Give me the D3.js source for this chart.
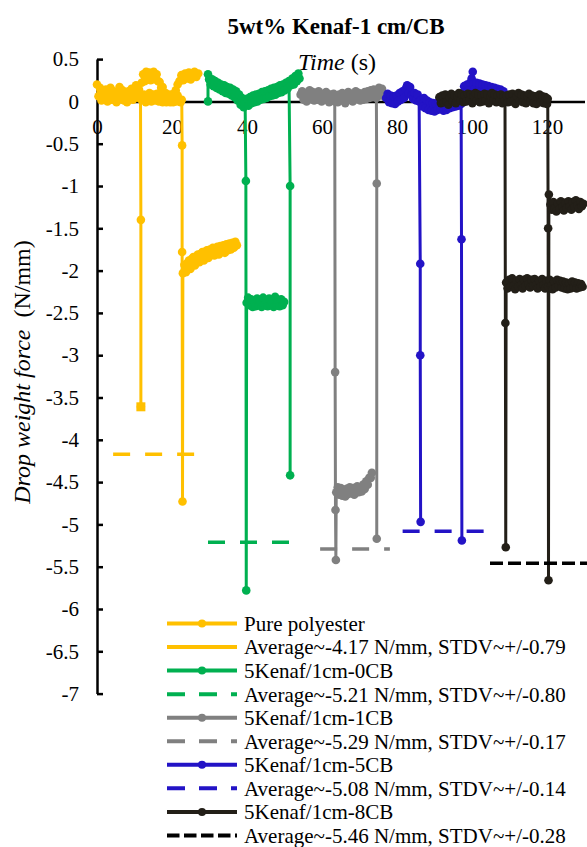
<!DOCTYPE html>
<html>
<head>
<meta charset="utf-8">
<script src="https://cdn.jsdelivr.net/npm/d3@7"></script>
<style>
  body { margin: 0; background: #fff; }
</style>
</head>
<body>
<div id="chart"></div>
<script>
// ---- data: [time (s), force (N/mm)] ----
const pureSegs = [
  [[0.0,0.2],[0.4,0.06],[0.8,0.16],[1.2,0.01],[1.6,0.12],[2.0,0.03],[2.4,0.14],[2.8,0.0],[3.2,0.1],[3.6,0.16],
   [4.0,0.02],[4.4,0.12],[4.8,0.04],[5.2,-0.01],[5.6,0.11],[6.0,0.17],[6.4,0.03],[6.8,0.13],[7.2,0.01],[7.6,0.1],
   [8.0,-0.01],[8.4,0.12],[8.8,0.03],[9.2,0.15],[9.6,0.02],[10.0,0.13],[10.4,0.19],[10.8,0.05],[11.2,0.14],[11.6,0.03],
   [11.7,-1.4],[11.7,-3.61]],
  [[11.9,0.22],[12.3,0.32],[12.7,0.24],[13.1,0.35],[13.5,0.26],[13.9,0.34],[14.3,0.25],[14.7,0.33],[15.1,0.35],[15.5,0.26],
   [15.9,0.32],[16.3,0.24],[16.7,0.23],[17.1,0.16],[17.5,0.17],[17.9,0.09],[18.3,0.1],[18.7,0.03],[19.1,0.04],[19.5,-0.01],
   [19.9,0.05],[20.3,-0.01],[20.7,0.06],[21.1,0.0],[21.5,0.07],[21.9,0.01],[22.3,-0.01],[22.6,0.02],
   [22.7,-0.52],[22.7,-1.78],[22.8,-4.73],[22.9,-2.03],[23.3,-1.93],[23.7,-2.02],[24.1,-1.91],[24.5,-1.88],[24.9,-1.98],
   [25.3,-1.86],[25.7,-1.84],[26.1,-1.94],[26.5,-1.83],[26.9,-1.81],[27.3,-1.9],[27.7,-1.8],[28.1,-1.78],[28.5,-1.88],
   [28.9,-1.78],[29.3,-1.76],[29.7,-1.85],[30.1,-1.75],[30.5,-1.81],[30.9,-1.73],[31.3,-1.82],[31.7,-1.74],[32.1,-1.72],
   [32.5,-1.81],[32.9,-1.71],[33.3,-1.78],[33.7,-1.7],[34.1,-1.79],[34.5,-1.69],[34.9,-1.76],[35.3,-1.68],[35.7,-1.75],
   [36.1,-1.67],[36.5,-1.73],[36.9,-1.66],[37.3,-1.7]],
  [[12.0,0.02],[12.5,0.08],[13.0,-0.01],[13.5,0.07],[14.0,0.1],[14.5,0.0],[15.0,0.08],[15.5,0.01],[16.0,0.09],[16.5,0.0],
   [17.0,0.07],[17.5,-0.01],[18.0,0.06],[18.5,-0.01],[19.0,0.05],[19.5,0.08],[20.0,0.01],[20.5,0.09],[21.0,0.13],[21.5,0.2],
   [22.0,0.24],[22.5,0.31],[23.0,0.25],[23.5,0.33],[24.0,0.27],[24.5,0.34],[25.0,0.26],[25.5,0.31],[26.0,0.35],[26.5,0.29],[27.0,0.33]]
];
const pureSquare = [[11.7,-3.61]];

const kenaf0Segs = [
  [[29.6,0.0],[29.6,0.32],[29.9,0.26],[30.3,0.2],[30.7,0.26],[31.1,0.18],[31.5,0.24],[31.9,0.16],[32.3,0.22],[32.7,0.14],
   [33.1,0.2],[33.5,0.12],[33.9,0.19],[34.3,0.1],[34.7,0.17],[35.1,0.09],[35.5,0.16],[35.9,0.07],[36.3,0.14],[36.7,0.05],
   [37.1,0.12],[37.5,0.01],[37.9,0.08],[38.3,-0.04],[38.7,0.04],[39.1,-0.07],[39.5,0.0],
   [39.7,-0.94],[39.8,-5.78],[39.9,-2.38],[40.3,-2.32],[40.7,-2.41],[41.1,-2.34],[41.5,-2.43],[41.9,-2.35],[42.3,-2.42],
   [42.7,-2.33],[43.1,-2.41],[43.5,-2.36],[43.9,-2.43],[44.3,-2.32],[44.7,-2.4],[45.1,-2.35],[45.5,-2.42],[45.9,-2.33],
   [46.3,-2.41],[46.7,-2.37],[47.1,-2.43],[47.5,-2.31],[47.9,-2.41],[48.3,-2.35],[48.7,-2.42],[49.1,-2.34],[49.5,-2.41],[49.9,-2.37]],
  [[40.0,0.03],[40.4,-0.05],[40.8,0.05],[41.2,-0.02],[41.6,0.07],[42.0,-0.01],[42.4,0.08],[42.8,0.0],[43.2,0.09],[43.6,0.02],
   [44.0,0.11],[44.4,0.03],[44.8,0.12],[45.2,0.04],[45.6,0.13],[46.0,0.06],[46.4,0.15],[46.8,0.07],[47.2,0.16],[47.6,0.08],
   [48.0,0.17],[48.4,0.1],[48.8,0.19],[49.2,0.11],[49.6,0.2],[50.0,0.13],[50.4,0.22],[50.8,0.15],[51.2,0.24],
   [51.5,-1.0],[51.5,-4.42]],
  [[51.7,0.19],[52.1,0.27],[52.5,0.2],[52.9,0.3],[53.3,0.24],[53.7,0.33],[54.0,0.27]]
];

const kenaf1Segs = [
  [[54.3,0.08],[54.7,0.12],[55.1,0.02],[55.5,0.1],[55.9,0.0],[56.3,0.09],[56.7,0.13],[57.1,0.03],[57.5,0.11],[57.9,0.01],
   [58.3,0.1],[58.7,0.02],[59.1,0.12],[59.5,0.04],[59.9,0.0],[60.3,0.09],[60.7,0.02],[61.1,0.11],[61.5,0.03],[61.9,-0.01],
   [62.3,0.08],[62.7,0.01],[63.1,0.09],[63.4,0.0],
   [63.5,-3.2],[63.6,-4.83],[63.7,-5.42],[63.8,-4.62],[64.2,-4.56],[64.6,-4.65],[65.0,-4.57],[65.4,-4.66],[65.8,-4.59],
   [66.2,-4.67],[66.6,-4.58],[67.0,-4.64],[67.4,-4.56],[67.8,-4.63],[68.2,-4.57],[68.6,-4.65],[69.0,-4.59],[69.4,-4.55],
   [69.8,-4.62],[70.2,-4.56],[70.6,-4.61],[71.0,-4.53],[71.4,-4.58],[71.8,-4.49],[72.2,-4.53],[72.6,-4.45],[73.0,-4.45],[73.3,-4.39]],
  [[63.8,0.06],[64.2,-0.01],[64.6,0.08],[65.0,0.01],[65.4,0.1],[65.8,0.02],[66.2,-0.02],[66.6,0.07],[67.0,0.11],[67.4,0.02],
   [67.8,0.09],[68.2,0.0],[68.6,0.08],[69.0,0.12],[69.4,0.03],[69.8,0.1],[70.2,0.01],[70.6,0.09],[71.0,0.02],[71.4,0.11],
   [71.8,0.03],[72.2,0.12],[72.6,0.04],[73.0,0.13],[73.4,0.05],[73.8,0.14],[74.2,0.06],[74.5,0.04],
   [74.6,-0.97],[74.6,-5.17]],
  [[74.8,0.12],[75.2,0.16],[75.6,0.07],[76.0,0.15],[76.4,0.08],[76.8,0.05]]
];

const kenaf5Segs = [
  [[77.1,0.04],[77.5,0.09],[77.9,-0.01],[78.3,0.07],[78.7,-0.02],[79.1,0.06],[79.5,-0.03],[79.9,0.07],[80.3,0.0],[80.7,0.1],
   [81.1,0.02],[81.5,0.12],[81.9,0.04],[82.3,0.15],[82.7,0.19],[83.1,0.1],[83.5,0.17],[83.9,0.07],[84.3,0.03],[84.7,0.1],
   [85.1,0.01],[85.5,0.08],[85.9,0.0],[86.2,-1.92],[86.2,-3.0],[86.3,-4.97]],
  [[86.4,0.02],[86.8,-0.06],[87.2,0.04],[87.6,-0.08],[88.0,0.01],[88.4,-0.1],[88.8,-0.01],[89.2,-0.11],[89.6,-0.02],[90.0,-0.12],
   [90.4,-0.03],[90.8,-0.1],[91.2,0.0],[91.6,-0.09],[92.0,-0.01],[92.4,-0.11],[92.8,-0.02],[93.2,-0.1],[93.6,0.0],[94.0,-0.08],
   [94.4,0.01],[94.8,-0.07],[95.2,0.02],[95.6,-0.06],[96.0,0.03],[96.4,-0.05],[96.8,0.02],[97.1,-0.03],
   [97.2,-1.63],[97.3,-5.19]],
  [[97.5,0.1],[97.9,0.18],[98.3,0.11],[98.7,0.2],[99.1,0.13],[99.5,0.22],[99.9,0.27],[100.2,0.35],[100.4,0.21],[100.8,0.15],
   [101.2,0.22],[101.6,0.13],[102.0,0.21],[102.4,0.12],[102.8,0.2],[103.2,0.11],[103.6,0.19],[104.0,0.1],[104.4,0.18],[104.8,0.09],
   [105.2,0.17],[105.6,0.08],[106.0,0.16],[106.4,0.07],[106.8,0.15],[107.2,0.06],[107.6,0.14],[108.0,0.05],[108.4,0.12],[108.8,0.04]]
];

const kenaf8Segs = [
  [[91.3,0.05],[91.7,-0.02],[92.1,0.07],[92.5,-0.01],[92.9,0.08],[93.3,0.0],[93.7,-0.04],[94.1,0.05],[94.5,0.09],[94.9,0.0],
   [95.3,0.07],[95.7,-0.02],[96.1,0.06],[96.5,0.1],[96.9,0.01],[97.3,0.08],[97.7,-0.01],[98.1,0.07],[98.5,0.0],[98.9,0.09],
   [99.3,0.01],[99.7,0.08],[100.1,-0.02],[100.5,0.06],[100.9,0.1],[101.3,0.01],[101.7,0.08],[102.1,-0.01],[102.5,0.07],[102.9,0.0],
   [103.3,0.09],[103.7,0.01],[104.1,0.08],[104.5,-0.02],[104.9,0.06],[105.3,0.1],[105.7,0.01],[106.1,0.08],[106.5,-0.01],[106.9,0.07],
   [107.3,0.0],[107.7,0.08],[108.1,-0.02],[108.5,0.06],[108.8,0.01],
   [108.9,-2.62],[109.0,-5.27],[109.1,-2.14],[109.5,-2.21],[109.9,-2.11],[110.3,-2.19],[110.7,-2.09],[111.1,-2.18],[111.5,-2.22],
   [111.9,-2.12],[112.3,-2.19],[112.7,-2.1],[113.1,-2.17],[113.5,-2.21],[113.9,-2.11],[114.3,-2.18],[114.7,-2.09],[115.1,-2.16],
   [115.5,-2.2],[115.9,-2.11],[116.3,-2.18],[116.7,-2.1],[117.1,-2.17],[117.5,-2.21],[117.9,-2.12],[118.3,-2.19],[118.7,-2.1],
   [119.1,-2.17],[119.5,-2.21],[119.9,-2.12],[120.3,-2.19],[120.7,-2.11],[121.1,-2.18],[121.5,-2.22],[121.9,-2.13],[122.3,-2.2],
   [122.7,-2.11],[123.1,-2.18],[123.5,-2.12],[123.9,-2.2],[124.3,-2.13],[124.7,-2.21],[125.1,-2.14],[125.5,-2.22],[125.9,-2.15],
   [126.3,-2.21],[126.7,-2.13],[127.1,-2.2],[127.5,-2.14],[127.9,-2.21],[128.3,-2.15],[128.7,-2.2],[129.1,-2.16],[129.5,-2.19]],
  [[109.2,0.07],[109.6,-0.01],[110.0,0.08],[110.4,0.0],[110.8,0.09],[111.2,0.01],[111.6,-0.03],[112.0,0.06],[112.4,0.1],[112.8,0.01],
   [113.2,0.08],[113.6,-0.01],[114.0,0.07],[114.4,-0.02],[114.8,0.06],[115.2,0.09],[115.6,0.0],[116.0,0.07],[116.4,-0.02],[116.8,0.06],
   [117.2,-0.03],[117.6,0.05],[118.0,0.08],[118.4,-0.01],[118.8,0.06],[119.2,-0.02],[119.6,0.05],[120.0,-0.03],[120.2,0.03],
   [120.3,-1.5],[120.4,-5.66],[120.5,-1.1],[120.9,-1.22],[121.3,-1.28],[121.7,-1.19],[122.1,-1.26],[122.5,-1.3],[122.9,-1.21],
   [123.3,-1.27],[123.7,-1.18],[124.1,-1.25],[124.5,-1.29],[124.9,-1.2],[125.3,-1.26],[125.7,-1.18],[126.1,-1.24],[126.5,-1.28],
   [126.9,-1.19],[127.3,-1.25],[127.7,-1.17],[128.1,-1.23],[128.5,-1.27],[128.9,-1.19],[129.3,-1.24],[129.7,-1.21]]
];

const seriesNames = ["Pure polyester", "5Kenaf/1cm-0CB", "5Kenaf/1cm-1CB", "5Kenaf/1cm-5CB", "5Kenaf/1cm-8CB"];
const avgValues = [-4.17, -5.21, -5.29, -5.08, -5.46];
const avgStdv = [0.79, 0.80, 0.17, 0.14, 0.28];
const avgStart = [4.3, 29.6, 59.5, 81.5, 104.8];
const avgEnd = [26.7, 53.3, 78.1, 103.8, 131.5];
const xTicks = [0, 20, 40, 60, 80, 100, 120];
const yTicks = d3.range(-7, 0.51, 0.5);

// ---- look ----
const FONT = "'Liberation Serif', 'Times New Roman', serif";
const colors = ["#FFC000", "#00B050", "#808080", "#2313C6", "#231F18"];
const avgColors = ["#FFC000", "#00B050", "#808080", "#2313C6", "#000000"];
const plotDash = ["17,15", "17,15", "17,15", "17,15", "13,5"];
const legendDash = [null, "18,14", "18,14", "18,14", "12.5,4.5"];
const allSegs = [pureSegs, kenaf0Segs, kenaf1Segs, kenaf5Segs, kenaf8Segs];

const W = 587, H = 847;
const svg = d3.select("#chart").append("svg")
  .attr("width", W).attr("height", H)
  .attr("font-family", FONT);

const x = d3.scaleLinear().domain([0, 130]).range([97, 584.5]);
const y = d3.scaleLinear().domain([-7, 0.5]).range([693.6, 59.1]);

// title + axis titles
svg.append("text")
  .attr("x", 336).attr("y", 34)
  .attr("text-anchor", "middle")
  .attr("style", `font-family:${FONT};font-size:23px;font-weight:bold`)
  .text("5wt% Kenaf-1 cm/CB");

const tt = svg.append("text")
  .attr("x", 337).attr("y", 70)
  .attr("text-anchor", "middle")
  .attr("style", `font-family:${FONT};font-size:24px`);
tt.append("tspan").style("font-style", "italic").text("Time");
tt.append("tspan").text(" (s)");

const yl = svg.append("text")
  .attr("transform", "translate(22,372) rotate(-90)")
  .attr("text-anchor", "middle")
  .attr("dy", "0.35em")
  .attr("style", `font-family:${FONT};font-size:24px;white-space:pre`);
yl.append("tspan").style("font-style", "italic").text("Drop weight force");
yl.append("tspan").text("  (N/mm)");

// axes
const yAxis = svg.append("g")
  .attr("transform", `translate(${x(0)},0)`)
  .call(d3.axisLeft(y).tickValues(yTicks).tickSizeInner(-6).tickSizeOuter(0)
    .tickPadding(18).tickFormat(d => String(+d.toFixed(1))));
yAxis.attr("font-family", FONT);
yAxis.select(".domain").attr("stroke", "#000").attr("stroke-width", 2.5);
yAxis.selectAll(".tick line").attr("stroke", "#000").attr("stroke-width", 2.5);
yAxis.selectAll("text").attr("style", `font-family:${FONT};font-size:21px`).attr("fill", "#000");

const xAxis = svg.append("g")
  .attr("transform", `translate(0,${y(0)})`)
  .call(d3.axisBottom(x).tickValues(xTicks).tickSize(0).tickPadding(18));
xAxis.attr("font-family", FONT);
xAxis.select(".domain").attr("stroke", "#000").attr("stroke-width", 2.5);
xAxis.selectAll("text").attr("style", `font-family:${FONT};font-size:21px`).attr("fill", "#000");

// data
const line = d3.line().x(d => x(d[0])).y(d => y(d[1]));
const plot = svg.append("g");

allSegs.forEach((segs, i) => {
  const g = plot.append("g");
  g.selectAll("path.seg")
    .data(segs)
    .join("path")
      .attr("class", "seg")
      .attr("d", line)
      .attr("fill", "none")
      .attr("stroke", colors[i])
      .attr("stroke-width", 3)
      .attr("stroke-linejoin", "round");
  g.selectAll("circle")
    .data(segs.flat())
    .join("circle")
      .attr("cx", d => x(d[0]))
      .attr("cy", d => y(d[1]))
      .attr("r", 4.3)
      .attr("fill", colors[i]);
  if (i === 0) {
    g.selectAll("rect.sq")
      .data(pureSquare)
      .join("rect")
        .attr("class", "sq")
        .attr("x", d => x(d[0]) - 4.5)
        .attr("y", d => y(d[1]) - 4.5)
        .attr("width", 9).attr("height", 9)
        .attr("fill", colors[0]);
  }
  // average line
  plot.append("line")
    .attr("x1", x(avgStart[i])).attr("x2", x(avgEnd[i]))
    .attr("y1", y(avgValues[i])).attr("y2", y(avgValues[i]))
    .attr("stroke", avgColors[i])
    .attr("stroke-width", 3.5)
    .attr("stroke-dasharray", plotDash[i]);
});

// legend
const legendItems = [];
seriesNames.forEach((n, i) => {
  legendItems.push({ label: n, color: colors[i], dash: null, marker: true });
  legendItems.push({
    label: `Average~${avgValues[i].toFixed(2)} N/mm, STDV~+/-${avgStdv[i].toFixed(2)}`,
    color: avgColors[i], dash: legendDash[i], marker: false
  });
});

const lg = svg.append("g");
const row = lg.selectAll("g")
  .data(legendItems)
  .join("g")
    .attr("transform", (d, i) => `translate(0,${623.5 + i * 23.55})`);
row.append("line")
  .attr("x1", 167).attr("x2", 237)
  .attr("stroke", d => d.color)
  .attr("stroke-width", 4)
  .attr("stroke-dasharray", d => d.dash);
row.filter(d => d.marker).append("circle")
  .attr("cx", 202).attr("r", 4)
  .attr("fill", d => d.color);
row.append("text")
  .attr("x", 244).attr("dy", "0.35em")
  .attr("style", `font-family:${FONT};font-size:21px`)
  .text(d => d.label);
</script>
</body>
</html>
